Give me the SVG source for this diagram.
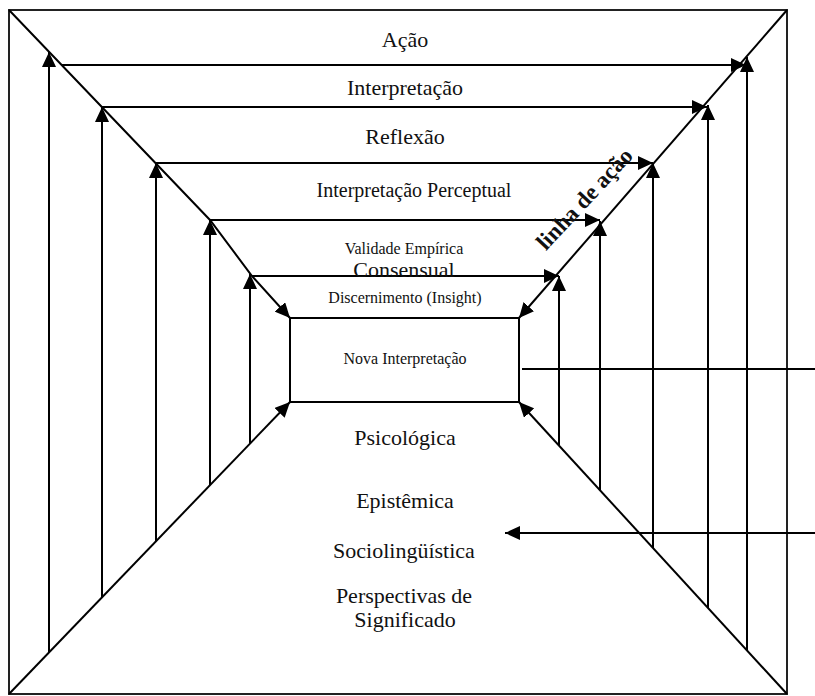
<svg xmlns="http://www.w3.org/2000/svg" width="815" height="696" viewBox="0 0 815 696">
<style>
.ln{fill:none;stroke:#000;stroke-width:2}
.fr{fill:none;stroke:#222;stroke-width:2}
.t{font-family:"Liberation Serif","Times New Roman",serif;fill:#111;text-anchor:middle}
.big{font-size:22px}
.mid{font-size:20px}
.sm{font-size:16px}
.arr{marker-end:url(#ah)}
</style>
<defs>
<marker id="ah" markerUnits="userSpaceOnUse" markerWidth="16" markerHeight="14" viewBox="0 0 16 14" refX="15" refY="7" orient="auto">
<path d="M0,0 L15,7 L0,14 z" fill="#000"/>
</marker>
</defs>
<rect width="815" height="696" fill="#fff"/>
<g id="frame"><rect class="fr" x="9" y="10" width="778" height="684"/></g>
<g id="connectors">
<path class="ln arr" d="M9,10 L210,220 L252,276 L290,318"/>
<path class="ln arr" d="M787,10 L519,318"/>
<path class="ln arr" d="M9,694 L290,402"/>
<path class="ln arr" d="M787,694 L519,402"/>
<path class="ln arr" d="M61.6,65 H746"/>
<path class="ln arr" d="M101.8,107 H707"/>
<path class="ln arr" d="M155.4,163 H653"/>
<path class="ln arr" d="M210,220 H600"/>
<path class="ln arr" d="M252,276 H559"/>
<path class="ln arr" d="M49,652.4 V52"/>
<path class="ln arr" d="M102,597.4 V107"/>
<path class="ln arr" d="M156,541.2 V163"/>
<path class="ln arr" d="M210,485.1 V220"/>
<path class="ln arr" d="M250,443.6 V274"/>
<path class="ln arr" d="M747,650.4 V57"/>
<path class="ln arr" d="M708,607.9 V105"/>
<path class="ln arr" d="M653,548 V163"/>
<path class="ln arr" d="M600,490.3 V221"/>
<path class="ln arr" d="M559,445.6 V276"/>
<path class="ln" d="M522,369 H815"/>
<path class="ln arr" d="M815,533 H505"/>
</g>
<g id="acao"><text class="t big" x="405" y="47">Ação</text></g>
<g id="interpretacao"><text class="t big" x="405" y="95">Interpretação</text></g>
<g id="reflexao"><text class="t big" x="405" y="144">Reflexão</text></g>
<g id="interp-perceptual"><text class="t mid" x="414" y="197">Interpretação Perceptual</text></g>
<g id="validade"><text class="t sm" x="404" y="254">Validade Empírica</text><text class="t big" x="404" y="277">Consensual</text></g>
<g id="discernimento"><text class="t sm" x="405" y="303">Discernimento (Insight)</text></g>
<g id="nova-interpretacao"><rect class="ln" x="290" y="318" width="229" height="84"/><text class="t sm" x="405" y="364">Nova Interpretação</text></g>
<g id="perspectivas">
<text class="t big" x="405" y="445">Psicológica</text>
<text class="t big" x="405" y="508">Epistêmica</text>
<text class="t big" x="404" y="558">Sociolingüística</text>
<text class="t big" x="404" y="603">Perspectivas de</text>
<text class="t big" x="405" y="627">Significado</text>
</g>
<g id="linha-acao"><text class="t" font-size="23" font-weight="bold" transform="translate(590,204) rotate(-47)">linha de ação</text></g>
</svg>
